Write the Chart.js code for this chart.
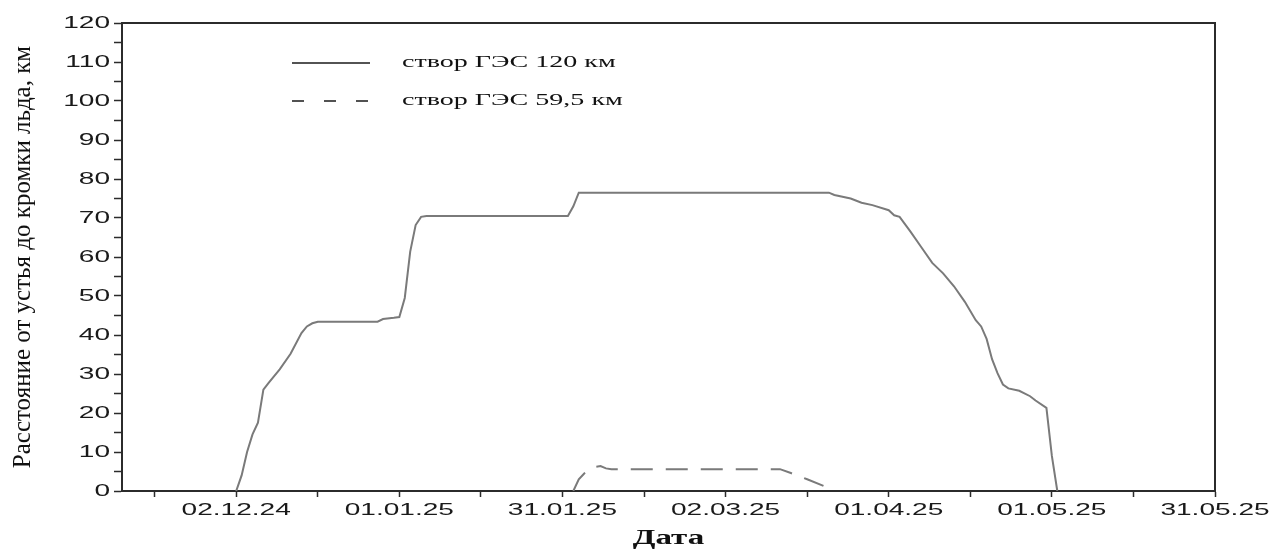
<!DOCTYPE html>
<html lang="ru">
<head>
<meta charset="utf-8">
<title>Расстояние от устья до кромки льда</title>
<script src="https://cdn.jsdelivr.net/npm/chart.js@4.4.1/dist/chart.umd.min.js"></script>
<style>
  html, body { margin: 0; padding: 0; background: #ffffff; }
  #wrap { width: 1271px; height: 551px; }
</style>
</head>
<body>
<div id="wrap"><canvas id="chart" width="1271" height="551"></canvas></div>
<script>
// Створ ГЭС 120 км: даты наблюдений и расстояние до кромки льда, км
const dates120 = [
  '02.12.24', '03.12.24', '04.12.24', '05.12.24', '06.12.24', '07.12.24', '08.12.24',
  '10.12.24', '12.12.24', '14.12.24', '15.12.24', '16.12.24', '17.12.24', '28.12.24',
  '29.12.24', '31.12.24', '01.01.25', '02.01.25', '03.01.25', '04.01.25', '05.01.25',
  '06.01.25', '01.02.25', '02.02.25', '03.02.25', '21.03.25', '22.03.25', '25.03.25',
  '27.03.25', '29.03.25', '01.04.25', '02.04.25', '03.04.25', '05.04.25', '07.04.25',
  '09.04.25', '11.04.25', '13.04.25', '15.04.25', '17.04.25', '18.04.25', '19.04.25',
  '20.04.25', '21.04.25', '22.04.25', '23.04.25', '25.04.25', '27.04.25', '28.04.25',
  '30.04.25', '01.05.25', '02.05.25'
];
const km120 = [
  0, 4, 10, 14.5, 17.5, 26, 27.8,
  31.2, 35.2, 40.5, 42.2, 43, 43.4, 43.4,
  44.1, 44.4, 44.6, 49.5, 61.4, 68.2, 70.3,
  70.5, 70.5, 73, 76.5, 76.5, 75.9, 75,
  73.9, 73.3, 72, 70.7, 70.3, 66.5, 62.5,
  58.5, 55.8, 52.5, 48.5, 43.8, 42.2, 39,
  33.8, 30.2, 27.3, 26.3, 25.7, 24.3, 23.2,
  21.3, 9, 0
];

// Створ ГЭС 59,5 км
const dates59 = [
  '02.02.25', '03.02.25', '04.02.25', '05.02.25', '06.02.25', '07.02.25',
  '08.02.25', '09.02.25', '12.03.25', '14.03.25', '17.03.25', '20.03.25'
];
const km59 = [0, 3, 4.5, 5.6, 6.2, 6.4, 5.8, 5.6, 5.6, 4.6, 3.0, 1.3];

// Подписи оси времени и её начало
const tickDates = ['02.12.24', '01.01.25', '31.01.25', '02.03.25', '01.04.25', '01.05.25', '31.05.25'];
const axisStartDate = '11.11.24';

const seriesLabels = ['створ ГЭС 120 км', 'створ ГЭС 59,5 км'];
const yTitle = 'Расстояние от устья до кромки льда, км';
const xTitle = 'Дата';

// --- преобразование дат в сутки от первой подписи оси ---
function parseDate(s) {
  const [d, m, y] = s.split('.').map(Number);
  return Date.UTC(2000 + y, m - 1, d);
}
const ORIGIN = parseDate(tickDates[0]);
const dayOf = s => Math.round((parseDate(s) - ORIGIN) / 86400000);
const toPoints = (dates, vals) => dates.map((d, i) => ({ x: dayOf(d), y: vals[i] }));

const majorDays = tickDates.map(dayOf);
const halfStep = (majorDays[1] - majorDays[0]) / 2;
const minorDays = [majorDays[0] - halfStep].concat(majorDays.slice(1).map((v, i) => (v + majorDays[i]) / 2));
const xTickDays = majorDays.concat(minorDays).sort((a, b) => a - b);

// Надписи растянуты по горизонтали, как на исходном графике
const TEXT_STRETCH = 1.65;
const stretchText = {
  id: 'stretchText',
  beforeInit(chart) {
    const ctx = chart.ctx;
    const base = ctx.fillText;
    ctx.fillText = function (text, x, y) {
      const m = this.getTransform();
      if (Math.abs(m.b) > 1e-6) {          // повёрнутый текст (подпись оси Y) не растягиваем
        return base.call(this, text, x, y);
      }
      this.save();
      this.translate(x, y);
      this.scale(TEXT_STRETCH, 1);
      base.call(this, text, 0, 0);
      this.restore();
    };
  }
};

// Рамка вокруг области построения
const plotFrame = {
  id: 'plotFrame',
  beforeDatasetsDraw(chart, args, opts) {
    const { ctx, chartArea: a } = chart;
    ctx.save();
    ctx.strokeStyle = opts.color;
    ctx.lineWidth = opts.width;
    ctx.strokeRect(a.left, a.top, a.right - a.left, a.bottom - a.top);
    ctx.restore();
  }
};

// Легенда внутри области построения
const insetLegend = {
  id: 'insetLegend',
  afterDatasetsDraw(chart, args, opts) {
    const { ctx, chartArea: a } = chart;
    chart.data.datasets.forEach((ds, i) => {
      const y = a.top + opts.top + i * opts.rowGap;
      const x0 = a.left + opts.lineStart;
      ctx.save();
      ctx.strokeStyle = opts.lineColor;
      ctx.lineWidth = opts.lineWidth;
      ctx.setLineDash(opts.dashes[i] || []);
      ctx.beginPath();
      ctx.moveTo(x0, y);
      ctx.lineTo(x0 + opts.lineLength, y);
      ctx.stroke();
      ctx.setLineDash([]);
      ctx.font = opts.font;
      ctx.fillStyle = opts.textColor;
      ctx.textAlign = 'left';
      ctx.textBaseline = 'middle';
      ctx.fillText(ds.label, x0 + opts.lineLength + opts.textGap, y);
      ctx.restore();
    });
  }
};

const tickFont = { family: "'Liberation Sans', Arial, sans-serif", size: 17 };
const axisColor = '#2b2b2b';

new Chart(document.getElementById('chart'), {
  type: 'line',
  data: {
    datasets: [
      {
        label: seriesLabels[0],
        data: toPoints(dates120, km120),
        borderColor: '#7a7a7a',
        borderWidth: 2,
        pointRadius: 0,
        tension: 0,
        fill: false
      },
      {
        label: seriesLabels[1],
        data: toPoints(dates59, km59),
        borderColor: '#7a7a7a',
        borderWidth: 2,
        borderDash: [22, 13],
        pointRadius: 0,
        tension: 0,
        fill: false
      }
    ]
  },
  options: {
    responsive: false,
    maintainAspectRatio: false,
    devicePixelRatio: 1,
    animation: false,
    events: [],
    layout: { padding: { left: 0, right: 56, top: 23, bottom: 0 } },
    scales: {
      x: {
        type: 'linear',
        min: dayOf(axisStartDate),
        max: majorDays[majorDays.length - 1],
        offset: false,
        afterBuildTicks(scale) {
          scale.ticks = xTickDays.map(v => ({ value: v }));
        },
        afterFit(scale) { scale.height = 60; },
        ticks: {
          autoSkip: false,
          maxRotation: 0,
          padding: 3,
          color: '#1a1a1a',
          font: tickFont,
          callback(value) {
            const i = majorDays.indexOf(value);
            return i >= 0 ? tickDates[i] : '';
          }
        },
        grid: {
          drawOnChartArea: false,
          drawTicks: true,
          tickLength: 6,
          tickColor: axisColor,
          tickWidth: 1.5
        },
        border: { display: true, color: axisColor, width: 2 },
        title: {
          display: true,
          text: xTitle,
          color: '#111111',
          font: { family: "'Liberation Serif', 'Times New Roman', serif", size: 20, weight: 'bold' },
          padding: { top: 0, bottom: 0 }
        }
      },
      y: {
        type: 'linear',
        min: 0,
        max: 120,
        afterFit(scale) { scale.width = 122; },
        ticks: {
          stepSize: 5,
          autoSkip: false,
          padding: 4,
          color: '#1a1a1a',
          font: tickFont,
          callback(value) { return value % 10 === 0 ? String(value) : ''; }
        },
        grid: {
          drawOnChartArea: false,
          drawTicks: true,
          tickLength: 8,
          tickColor: axisColor,
          tickWidth: 1.5
        },
        border: { display: true, color: axisColor, width: 2 },
        title: {
          display: true,
          text: yTitle,
          color: '#111111',
          font: { family: "'Liberation Serif', 'Times New Roman', serif", size: 25 },
          padding: { top: 8, bottom: 0 }
        }
      }
    },
    plugins: {
      legend: { display: false },
      tooltip: { enabled: false },
      plotFrame: { color: axisColor, width: 2 },
      insetLegend: {
        top: 40,
        rowGap: 38,
        lineStart: 170,
        lineLength: 78,
        textGap: 32,
        lineColor: '#1a1a1a',
        lineWidth: 1.5,
        dashes: [[], [12, 20]],
        font: "17px 'Liberation Serif', 'Times New Roman', serif",
        textColor: '#111111'
      }
    }
  },
  plugins: [stretchText, plotFrame, insetLegend]
});
</script>
</body>
</html>
